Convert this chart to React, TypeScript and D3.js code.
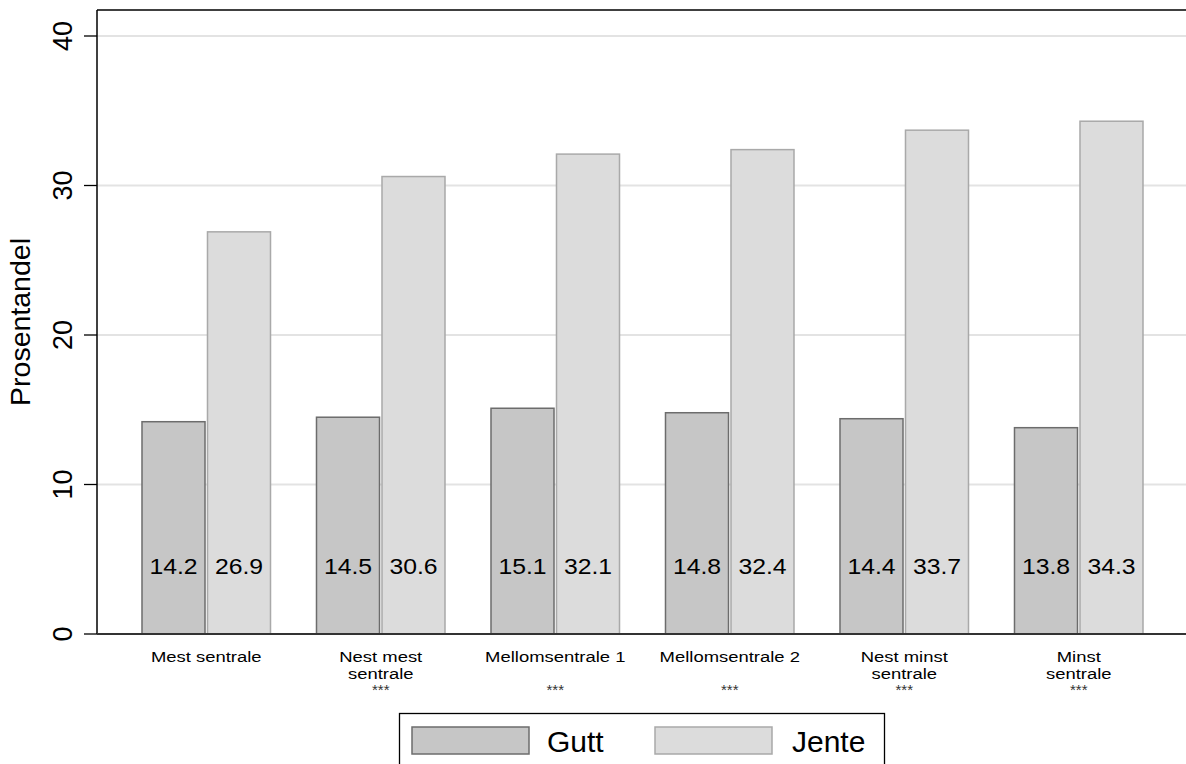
import React from "react";
import * as d3 from "d3";

const categories = ["Mest sentrale", "Nest mest sentrale", "Mellomsentrale 1", "Mellomsentrale 2", "Nest minst sentrale", "Minst sentrale"];
const categoryLines = [["Mest sentrale"], ["Nest mest", "sentrale"], ["Mellomsentrale 1"], ["Mellomsentrale 2"], ["Nest minst", "sentrale"], ["Minst", "sentrale"]];
const significance = ["", "***", "***", "***", "***", "***"];
const gutt = [14.2, 14.5, 15.1, 14.8, 14.4, 13.8];
const jente = [26.9, 30.6, 32.1, 32.4, 33.7, 34.3];
const yTicks = [0, 10, 20, 30, 40];
const seriesNames = ["Gutt", "Jente"];

const W = 1186, H = 764;
const left = 97, right = 1186, top = 10, bottom = 634;
const font = "Liberation Sans, Arial, sans-serif";
const fills = ["#c6c6c6", "#dcdcdc"];
const strokes = ["#6c6c6c", "#a9a9a9"];

export default function App() {
  const y = d3.scaleLinear().domain([0, 40]).range([bottom, 36]);
  const x0 = d3.scaleBand<string>().domain(categories).range([119, 1166]).paddingInner(0.255).paddingOuter(0.1275);
  const x1 = d3.scaleBand<string>().domain(seriesNames).range([0, x0.bandwidth()]).paddingInner(0.015);
  const data = [gutt, jente];
  return (
    <svg width={W} height={H} style={{ position: "absolute", left: 0, top: 0, background: "#fff" }} fontFamily={font}>
      {yTicks.map((t) => (
        <g key={t}>
          {t > 0 && <line x1={left} x2={right} y1={y(t)} y2={y(t)} stroke="#e3e3e3" strokeWidth={2} />}
          <line x1={84} x2={left} y1={y(t)} y2={y(t)} stroke="#000" strokeWidth={1.3} />
          <text transform={`translate(72,${y(t)}) rotate(-90)`} textAnchor="middle" fontSize={27} fill="#000">{t}</text>
        </g>
      ))}
      <text transform={`translate(30,322) rotate(-90)`} textAnchor="middle" fontSize={28.5} fill="#000">Prosentandel</text>
      {categories.map((c, i) => {
        const cx = (x0(c) as number) + x0.bandwidth() / 2;
        return (
          <g key={c}>
            {data.map((s, j) => {
              const bx = (x0(c) as number) + (x1(seriesNames[j]) as number);
              const bw = x1.bandwidth();
              return (
                <g key={j}>
                  <rect x={bx + 0.75} y={y(s[i])} width={bw - 1.5} height={bottom - y(s[i])} fill={fills[j]} stroke={strokes[j]} strokeWidth={1.5} />
                  <text transform={`translate(${bx + bw / 2},574) scale(1.1,1)`} textAnchor="middle" fontSize={22.5} fill="#000">{s[i].toFixed(1)}</text>
                </g>
              );
            })}
            {categoryLines[i].map((ln, k) => (
              <text key={k} transform={`translate(${cx},${662 + k * 17}) scale(1.19,1)`} textAnchor="middle" fontSize={15.5} fill="#000">{ln}</text>
            ))}
            <text x={cx} y={695} textAnchor="middle" fontSize={15} fill="#333">{significance[i]}</text>
          </g>
        );
      })}
      <line x1={left} x2={left} y1={top} y2={bottom} stroke="#000" strokeWidth={1.5} />
      <line x1={left} x2={right} y1={top} y2={top} stroke="#000" strokeWidth={1.5} />
      <line x1={left} x2={right} y1={bottom} y2={bottom} stroke="#333" strokeWidth={2} />
      <rect x={399.5} y={713.5} width={485} height={60} fill="#fff" stroke="#000" strokeWidth={1.3} />
      {seriesNames.map((n, j) => (
        <g key={n}>
          <rect x={412 + j * 243} y={727} width={117} height={27} fill={fills[j]} stroke={strokes[j]} strokeWidth={1.5} />
          <text x={547 + j * 245} y={752} fontSize={30} fill="#000">{n}</text>
        </g>
      ))}
    </svg>
  );
}
